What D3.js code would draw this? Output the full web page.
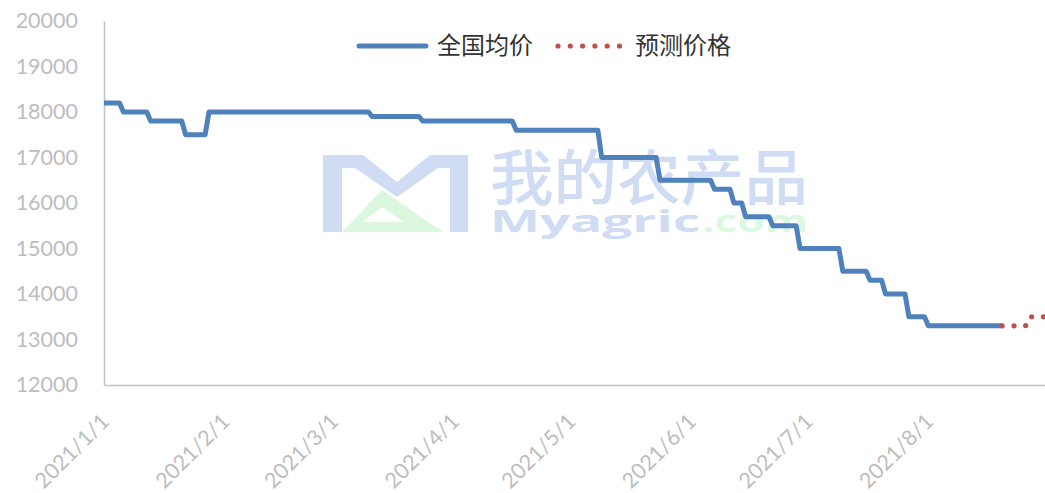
<!DOCTYPE html>
<html><head><meta charset="utf-8">
<script src="https://cdn.jsdelivr.net/npm/d3@7"></script>
<style>body{margin:0;background:#fff}svg{display:block}</style>
</head><body>
<svg id="c" width="1045" height="493"></svg>
<script>
// ---- data ----
const actualDates = [
  "2021-01-01","2021-01-05","2021-01-06","2021-01-12","2021-01-13","2021-01-21",
  "2021-01-22","2021-01-27","2021-01-28","2021-03-10","2021-03-11","2021-03-23",
  "2021-03-24","2021-04-16","2021-04-17","2021-05-08","2021-05-09","2021-05-23",
  "2021-05-24","2021-06-06","2021-06-07","2021-06-11","2021-06-12","2021-06-14",
  "2021-06-15","2021-06-21","2021-06-22","2021-06-28","2021-06-29","2021-07-09",
  "2021-07-10","2021-07-16","2021-07-17","2021-07-20","2021-07-21","2021-07-26",
  "2021-07-27","2021-07-31","2021-08-01","2021-08-20"];
const actualValues = [
  18200,18200,18000,18000,17800,17800,
  17500,17500,18000,18000,17900,17900,
  17800,17800,17600,17600,17000,17000,
  16500,16500,16300,16300,16000,16000,
  15700,15700,15500,15500,15000,15000,
  14500,14500,14300,14300,14000,14000,
  13500,13500,13300,13300];
const forecastDates = ["2021-08-20","2021-08-26","2021-08-27","2021-08-31"];
const forecastValues = [13300,13300,13500,13500];
const seriesNames = ["全国均价","预测价格"];
const yTicks = [12000,13000,14000,15000,16000,17000,18000,19000,20000];
const xTickDates = ["2021-01-01","2021-02-01","2021-03-01","2021-04-01","2021-05-01","2021-06-01","2021-07-01","2021-08-01"];
const xTickLabels = ["2021/1/1","2021/2/1","2021/3/1","2021/4/1","2021/5/1","2021/6/1","2021/7/1","2021/8/1"];
const xDomain = ["2021-01-01","2021-08-31"];

// ---- setup ----
const parse = d3.utcParse("%Y-%m-%d");
const svg = d3.select("#c");
const mLeft = 104, mRight = 1045, mTop = 21, mBottom = 385;
const x = d3.scaleUtc().domain(xDomain.map(parse)).range([mLeft, mRight]);
const y = d3.scaleLinear().domain([12000, 20000]).range([mBottom, mTop]);
const axisColor = "#c4c4c4", labelColor = "#bdbdbd";
const blue = "#4f81bd", red = "#c0504d";

// ---- watermark ----
const wm = svg.append("g");
wm.append("path")
  .attr("d","M323,155 L363,155 L397,182 L430,155 L468,155 L468,232 L450,232 L450,168 L438,168 L397,197 L355,168 L342,168 L342,232 L323,232 Z")
  .attr("fill","#cfdcf4");
wm.append("path")
  .attr("d","M342,232 L382,190 L443,232 Z M362,222 L382,207 L404,222 Z")
  .attr("fill","#dbf7dd").attr("fill-rule","evenodd");
const wt = wm.append("text").attr("font-family","'Open Sans'");
wt.append("tspan").attr("x",490).attr("y",200)
  .attr("font-family","'Noto Sans CJK SC'").attr("font-size",60).attr("font-weight",500)
  .attr("textLength",318).attr("lengthAdjust","spacingAndGlyphs")
  .attr("fill","#cfdcf4").text("我的农产品");
wt.append("tspan").attr("x",490).attr("y",232)
  .attr("font-size",31).attr("font-weight",700)
  .attr("textLength",210).attr("lengthAdjust","spacingAndGlyphs")
  .attr("fill","#cfdcf4").text("Myagric");
wt.append("tspan").attr("x",702).attr("y",232)
  .attr("font-size",31).attr("font-weight",700)
  .attr("textLength",106).attr("lengthAdjust","spacingAndGlyphs")
  .attr("fill","#ddf8e2").text(".com");

// ---- axes ----
const yAxis = svg.append("g").attr("transform",`translate(${mLeft},0)`)
  .call(d3.axisLeft(y).tickValues(yTicks).tickSizeInner(0).tickSizeOuter(0).tickPadding(26).tickFormat(d3.format("d")));
const xAxis = svg.append("g").attr("transform",`translate(0,${mBottom})`)
  .call(d3.axisBottom(x).tickValues(xTickDates.map(parse)).tickSizeInner(0).tickSizeOuter(0)
    .tickFormat((d,i)=>xTickLabels[i]));
[yAxis, xAxis].forEach(g=>{
  g.select(".domain").attr("stroke",axisColor).attr("stroke-width",1.6);
  g.selectAll("text").attr("fill",labelColor).attr("font-family","Lato, 'Liberation Sans'").attr("font-size",21.5);
});
xAxis.selectAll("text")
  .attr("x",0).attr("y",0).attr("dy",0)
  .attr("text-anchor","end")
  .attr("transform","translate(6,38) rotate(-45)");

// ---- lines ----
const line = d3.line().x(d=>x(d[0])).y(d=>y(d[1]));
const actual = actualDates.map((d,i)=>[parse(d), actualValues[i]]);
const forecast = forecastDates.map((d,i)=>[parse(d), forecastValues[i]]);
svg.append("path").datum(actual).attr("d",line)
  .attr("fill","none").attr("stroke",blue).attr("stroke-width",5)
  .attr("stroke-linejoin","round").attr("stroke-linecap","butt");
svg.append("path").datum(forecast).attr("d",line)
  .attr("fill","none").attr("stroke",red).attr("stroke-width",5.2)
  .attr("stroke-linecap","round").attr("stroke-dasharray","0 11.8");

// ---- legend ----
const lg = svg.append("g");
lg.append("line").attr("x1",359).attr("x2",426).attr("y1",46).attr("y2",46)
  .attr("stroke",blue).attr("stroke-width",5).attr("stroke-linecap","round");
lg.append("text").attr("x",437).attr("y",54).attr("font-family","'Noto Sans CJK SC'")
  .attr("font-size",24).attr("fill","#333").text(seriesNames[0]);
lg.append("line").attr("x1",558).attr("x2",620).attr("y1",46).attr("y2",46)
  .attr("stroke",red).attr("stroke-width",5.2).attr("stroke-linecap","round").attr("stroke-dasharray","0 12.3");
lg.append("text").attr("x",635).attr("y",54).attr("font-family","'Noto Sans CJK SC'")
  .attr("font-size",24).attr("fill","#333").text(seriesNames[1]);
</script>
</body></html>
